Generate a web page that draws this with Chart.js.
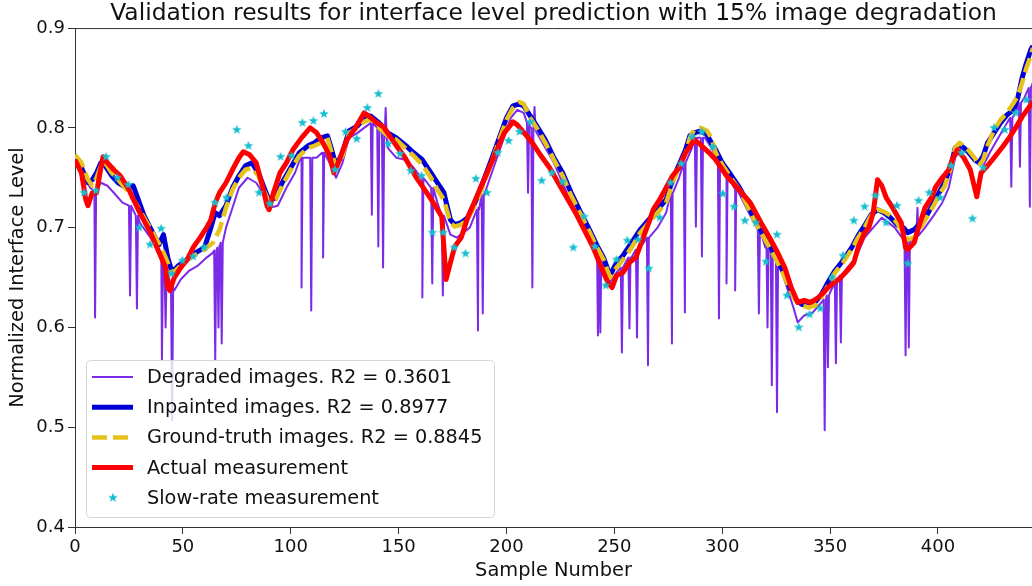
<!DOCTYPE html>
<html>
<head>
<meta charset="utf-8">
<script src="https://cdn.jsdelivr.net/npm/chart.js@4.4.0/dist/chart.umd.min.js"></script>
<style>
  html, body { margin: 0; padding: 0; background: #fff; }
  canvas { display: block; }
</style>
</head>
<body>
<canvas id="levelChart" width="1032" height="586"></canvas>
<script>
// values, as [sample number, normalized interface level]

var actualLevel = [
  [0,0.768],[3,0.755],[5,0.728],[6,0.722],[8,0.735],[10,0.735],[12,0.760],[13,0.771],[15,0.765],[18,0.758],
  [21,0.752],[25,0.738],[30,0.715],[35,0.695],[39,0.675],[42,0.660],[43,0.640],[44,0.637],[46,0.650],[49,0.660],
  [52,0.668],[55,0.681],[58,0.690],[61,0.700],[63,0.708],[65,0.725],[67,0.735],[70,0.745],[73,0.758],[76,0.770],
  [78,0.776],[81,0.773],[84,0.765],[87,0.741],[89,0.722],[90,0.718],[92,0.735],[95,0.755],[98,0.765],[101,0.778],
  [105,0.790],[109,0.800],[112,0.795],[115,0.785],[118,0.772],[120,0.755],[122,0.765],[126,0.788],[130,0.800],[134,0.815],
  [136,0.812],[140,0.805],[143,0.801],[148,0.785],[153,0.770],[158,0.751],[163,0.735],[167,0.722],[170,0.711],[171,0.680],
  [172,0.648],[174,0.665],[176,0.681],[179,0.690],[182,0.710],[185,0.725],[189,0.745],[193,0.765],[196,0.780],[199,0.795],
  [203,0.806],[205,0.803],[209,0.793],[212,0.785],[216,0.772],[220,0.760],[224,0.745],[228,0.730],[232,0.715],[236,0.698],
  [240,0.681],[244,0.660],[247,0.645],[249,0.640],[251,0.652],[254,0.655],[257,0.665],[260,0.670],[263,0.688],[266,0.705],
  [268,0.718],[271,0.728],[274,0.740],[277,0.752],[280,0.760],[283,0.775],[287,0.788],[290,0.783],[294,0.775],[297,0.768],
  [302,0.752],[307,0.740],[313,0.725],[318,0.705],[322,0.690],[325,0.678],[329,0.660],[332,0.640],[335,0.625],[338,0.627],
  [341,0.625],[344,0.629],[347,0.635],[349,0.640],[352,0.645],[355,0.650],[358,0.657],[361,0.665],[363,0.680],[366,0.695],
  [368,0.700],[370,0.715],[372,0.748],[374,0.742],[376,0.730],[379,0.720],[383,0.705],[385,0.680],[386,0.678],[389,0.685],
  [391,0.700],[394,0.720],[397,0.730],[399,0.741],[402,0.750],[405,0.758],[407,0.770],[409,0.778],[412,0.770],[415,0.758],
  [417,0.740],[418,0.731],[420,0.755],[423,0.762],[426,0.770],[430,0.781],[433,0.790],[436,0.800],[439,0.811],[442,0.820],
  [444,0.826]
];

var groundTruth = [
  [0,0.773],[3,0.765],[6,0.748],[8,0.742],[10,0.750],[12,0.762],[14,0.765],[17,0.755],[20,0.748],[24,0.738],
  [28,0.725],[32,0.710],[36,0.695],[40,0.680],[43,0.665],[45,0.654],[48,0.660],[52,0.668],[56,0.673],[60,0.678],
  [64,0.685],[67,0.698],[70,0.720],[73,0.738],[76,0.750],[79,0.758],[82,0.760],[85,0.752],[88,0.735],[90,0.725],
  [93,0.728],[96,0.742],[100,0.758],[104,0.772],[108,0.780],[111,0.782],[114,0.785],[117,0.790],[119,0.775],[121,0.760],
  [124,0.772],[127,0.795],[131,0.800],[134,0.806],[137,0.809],[141,0.800],[145,0.792],[149,0.788],[153,0.780],[157,0.772],
  [161,0.763],[165,0.750],[168,0.738],[171,0.728],[174,0.705],[176,0.701],[179,0.703],[182,0.708],[186,0.725],[189,0.741],
  [193,0.765],[197,0.790],[200,0.808],[203,0.820],[206,0.826],[208,0.824],[211,0.810],[214,0.800],[218,0.785],[222,0.768],
  [226,0.752],[230,0.732],[234,0.715],[238,0.698],[242,0.680],[245,0.668],[248,0.650],[251,0.660],[254,0.668],[258,0.680],
  [262,0.695],[266,0.705],[270,0.715],[274,0.725],[277,0.745],[280,0.761],[283,0.775],[285,0.790],[287,0.798],[290,0.800],
  [293,0.797],[295,0.790],[297,0.775],[300,0.763],[304,0.750],[308,0.738],[311,0.725],[314,0.711],[318,0.695],[322,0.680],
  [325,0.668],[328,0.655],[331,0.640],[334,0.627],[337,0.622],[340,0.620],[343,0.622],[346,0.630],[349,0.642],[352,0.654],
  [356,0.665],[360,0.678],[363,0.690],[366,0.700],[369,0.712],[372,0.718],[375,0.716],[378,0.712],[381,0.705],[384,0.695],
  [386,0.688],[389,0.690],[392,0.700],[395,0.711],[398,0.722],[401,0.735],[403,0.741],[406,0.760],[408,0.780],[410,0.785],
  [412,0.782],[414,0.778],[417,0.770],[419,0.762],[421,0.768],[423,0.782],[426,0.798],[429,0.808],[432,0.815],[435,0.825],
  [437,0.832],[439,0.845],[441,0.860],[443,0.872],[444,0.880]
];

var inpainted = [
  [0,0.770],[3,0.760],[6,0.745],[8,0.748],[10,0.755],[12,0.765],[14,0.762],[17,0.752],[20,0.745],[24,0.740],
  [27,0.742],[29,0.730],[32,0.712],[36,0.695],[39,0.683],[41,0.693],[43,0.670],[45,0.655],[48,0.662],[52,0.668],
  [56,0.675],[60,0.680],[63,0.700],[65,0.715],[67,0.712],[70,0.722],[73,0.740],[76,0.752],[79,0.762],[82,0.765],
  [85,0.755],[88,0.738],[90,0.727],[93,0.730],[96,0.745],[100,0.760],[104,0.775],[108,0.782],[111,0.785],[114,0.790],
  [117,0.792],[119,0.778],[121,0.762],[124,0.775],[127,0.797],[131,0.802],[134,0.810],[137,0.812],[141,0.805],[145,0.795],
  [149,0.790],[153,0.783],[157,0.775],[161,0.768],[165,0.755],[168,0.745],[171,0.735],[174,0.708],[176,0.703],[179,0.705],
  [182,0.710],[186,0.728],[189,0.745],[193,0.768],[197,0.792],[200,0.810],[203,0.822],[206,0.824],[208,0.822],[211,0.812],
  [214,0.802],[218,0.788],[222,0.770],[226,0.755],[230,0.735],[234,0.717],[238,0.700],[242,0.682],[245,0.670],[248,0.652],
  [251,0.665],[254,0.672],[258,0.685],[262,0.698],[266,0.708],[270,0.718],[274,0.728],[277,0.748],[280,0.763],[283,0.778],
  [285,0.792],[287,0.795],[290,0.797],[293,0.793],[295,0.785],[297,0.778],[300,0.765],[304,0.753],[308,0.740],[311,0.728],
  [314,0.713],[318,0.697],[322,0.683],[325,0.670],[328,0.657],[331,0.642],[334,0.628],[337,0.623],[340,0.622],[343,0.625],
  [346,0.633],[349,0.645],[352,0.656],[356,0.667],[360,0.680],[363,0.692],[366,0.702],[369,0.713],[372,0.718],[375,0.715],
  [378,0.710],[381,0.703],[384,0.700],[386,0.695],[389,0.698],[392,0.705],[395,0.713],[398,0.725],[401,0.737],[403,0.745],
  [406,0.762],[408,0.780],[410,0.783],[412,0.780],[414,0.776],[417,0.768],[419,0.765],[421,0.772],[423,0.785],[426,0.795],
  [429,0.805],[432,0.813],[435,0.818],[437,0.830],[439,0.850],[441,0.865],[443,0.878],[444,0.882]
];

// degraded prediction: the running level, and its drop-outs as [sample, bottom, level around it]
var degradedBase = [
  [0,0.765],[4,0.755],[7,0.740],[9,0.735],[12,0.745],[15,0.742],[18,0.735],[22,0.725],[26,0.718],[30,0.705],
  [35,0.690],[40,0.672],[44,0.645],[46,0.637],[49,0.648],[53,0.657],[57,0.662],[61,0.670],[64,0.675],[67,0.682],
  [70,0.700],[73,0.720],[76,0.740],[80,0.750],[84,0.745],[87,0.735],[90,0.720],[94,0.722],[98,0.740],[102,0.755],
  [105,0.770],[108,0.770],[112,0.770],[115,0.775],[118,0.765],[121,0.750],[124,0.765],[127,0.790],[131,0.795],[134,0.800],
  [138,0.805],[141,0.790],[145,0.780],[149,0.770],[153,0.768],[157,0.760],[161,0.750],[165,0.740],[168,0.725],[171,0.710],
  [174,0.693],[177,0.690],[180,0.695],[183,0.700],[187,0.720],[190,0.735],[194,0.760],[198,0.785],[202,0.810],[205,0.818],
  [208,0.815],[211,0.800],[214,0.795],[218,0.780],[222,0.765],[226,0.745],[230,0.725],[234,0.710],[238,0.695],[242,0.675],
  [245,0.660],[248,0.645],[251,0.655],[254,0.660],[258,0.670],[262,0.680],[266,0.690],[270,0.700],[274,0.715],[277,0.735],
  [280,0.750],[283,0.765],[286,0.780],[289,0.790],[292,0.790],[295,0.780],[298,0.768],[302,0.755],[306,0.740],[310,0.725],
  [313,0.712],[316,0.700],[320,0.680],[324,0.670],[327,0.660],[330,0.640],[333,0.620],[335,0.605],[338,0.612],[342,0.615],
  [346,0.625],[350,0.635],[354,0.650],[358,0.660],[362,0.670],[366,0.690],[370,0.700],[374,0.710],[377,0.705],[380,0.700],
  [384,0.688],[387,0.685],[390,0.690],[394,0.700],[398,0.712],[402,0.725],[405,0.740],[408,0.770],[411,0.780],[414,0.775],
  [418,0.768],[421,0.762],[424,0.775],[428,0.790],[432,0.805],[436,0.815],[440,0.830],[444,0.845]
];
var degradedDrops = [
  [9.3,0.610,0.737],[25.5,0.632,0.722],[28.7,0.619,0.712],[40.3,0.567,0.672],[42,0.600,0.660],[45,0.507,0.640],
  [65,0.567,0.677],[66.5,0.600,0.680],[68,0.584,0.685],[105,0.640,0.770],[109.5,0.617,0.770],[115,0.670,0.775],
  [137.6,0.713,0.805],[140.6,0.681,0.800],[142.8,0.660,0.795],[144,0.820,0.790],[161,0.630,0.750],[165.6,0.644,0.740],
  [170.5,0.632,0.712],[186.8,0.597,0.718],[189,0.614,0.733],[210,0.735,0.805],[212,0.640,0.800],[213,0.821,0.798],
  [242.4,0.592,0.675],[243.5,0.595,0.670],[253.5,0.575,0.660],[257,0.599,0.670],[260.5,0.590,0.678],[265.6,0.562,0.690],
  [276.7,0.584,0.735],[282.7,0.615,0.765],[287.8,0.701,0.790],[290.6,0.671,0.790],[298.5,0.609,0.768],[302,0.644,0.755],
  [306,0.637,0.740],[317,0.614,0.698],[321,0.600,0.685],[323,0.542,0.675],[325.4,0.515,0.670],[347.5,0.497,0.628],
  [349,0.560,0.632],[352.7,0.564,0.645],[355,0.585,0.652],[385,0.572,0.688],[386.5,0.580,0.686],[390.5,0.720,0.692],
  [434,0.741,0.810],[438,0.761,0.825],[442.6,0.721,0.840]
];

var slowRate = [
  [4.2,0.735],[9.7,0.737],[14.4,0.771],[19.6,0.750],[24.7,0.743],[29.8,0.700],[34.8,0.683],[39.9,0.699],[44.8,0.654],[49.8,0.667],
  [54.8,0.671],[59.9,0.680],[64.9,0.725],[70.2,0.730],[75,0.798],[80.4,0.782],[85.3,0.735],[90.3,0.724],[95.3,0.771],[100.4,0.772],
  [105.4,0.805],[110.5,0.807],[115.4,0.814],[120.5,0.758],[125.4,0.796],[130.6,0.789],[135.5,0.820],[140.6,0.834],[145.2,0.784],[150.6,0.774],
  [155.6,0.757],[160.6,0.752],[165.7,0.695],[170.7,0.695],[175.8,0.680],[181,0.674],[185.8,0.749],[191,0.735],[196,0.775],[201,0.787],
  [206,0.796],[211,0.806],[216.3,0.747],[221,0.755],[226,0.746],[231,0.680],[236,0.711],[241,0.681],[246,0.642],[251,0.668],
  [256,0.687],[261,0.688],[266,0.659],[271,0.710],[276,0.745],[281,0.764],[286,0.791],[290.6,0.796],[295.6,0.781],[300.3,0.734],
  [305.5,0.721],[310.5,0.707],[315.6,0.705],[320.3,0.666],[325.4,0.693],[330,0.632],[335.5,0.600],[340.5,0.613],[345.5,0.619],[351,0.650],
  [356,0.672],[361,0.707],[366,0.721],[371,0.732],[376,0.705],[381,0.722],[386,0.664],[391,0.727],[396,0.735],[401,0.730],
  [406,0.762],[411,0.775],[416,0.709],[421,0.760],[426,0.800],[431,0.798],[436,0.815],[441,0.828]
];

var seriesLabels = [
  'Degraded images. R2 = 0.3601',
  'Inpainted images. R2 = 0.8977',
  'Ground-truth images. R2 = 0.8845',
  'Actual measurement',
  'Slow-rate measurement'
];
var yTicks = [0.4, 0.5, 0.6, 0.7, 0.8, 0.9];
var xTicks = [0, 50, 100, 150, 200, 250, 300, 350, 400];

function toPoints(arr) {
  return arr.map(function (p) { return { x: p[0], y: p[1] }; });
}

var degradedPts = toPoints(degradedBase);
degradedDrops.forEach(function (d) {
  degradedPts.push({ x: d[0] - 0.5, y: d[2] }, { x: d[0], y: d[1] }, { x: d[0] + 0.5, y: d[2] });
});
degradedPts.sort(function (a, b) { return a.x - b.x; });

// filled five point star used as marker
function starImage(r, color) {
  var c = document.createElement('canvas');
  c.width = c.height = Math.ceil(r * 2 + 2);
  var g = c.getContext('2d');
  var cx = c.width / 2, cy = c.height / 2;
  g.beginPath();
  for (var i = 0; i < 10; i++) {
    var rad = i % 2 === 0 ? r : r * 0.42;
    var a = -Math.PI / 2 + i * Math.PI / 5;
    var px = cx + rad * Math.cos(a), py = cy + rad * Math.sin(a);
    if (i === 0) g.moveTo(px, py); else g.lineTo(px, py);
  }
  g.closePath();
  g.fillStyle = color;
  g.fill();
  return c;
}
var star = starImage(5, '#17becf');

var font = 'DejaVu Sans';

// top spine and the legend box drawn in the axes like the figure
var framePlugin = {
  id: 'frame',
  afterDatasetsDraw: function (chart) {
    var ctx = chart.ctx, a = chart.chartArea;
    ctx.save();
    ctx.strokeStyle = '#333';
    ctx.lineWidth = 1;
    ctx.beginPath();
    ctx.moveTo(a.left, a.top + 0.5);
    ctx.lineTo(a.right, a.top + 0.5);
    ctx.stroke();

    var bx = a.left + 11, by = 360, bw = 408, bh = 157;
    ctx.beginPath();
    ctx.roundRect(bx + 0.5, by + 0.5, bw, bh, 4);
    ctx.fillStyle = 'rgba(255,255,255,0.8)';
    ctx.fill();
    ctx.strokeStyle = '#d6d6d6';
    ctx.stroke();

    var ds = chart.data.datasets;
    ctx.font = '19.3px ' + font;
    ctx.textBaseline = 'middle';
    ctx.fillStyle = '#111';
    for (var i = 0; i < 5; i++) {
      var d = ds[i];
      var y = by + 17 + i * 30.2;
      if (d.showLine === false) {
        ctx.drawImage(star, bx + 27 - star.width / 2, y - star.height / 2);
      } else {
        ctx.beginPath();
        ctx.strokeStyle = d.borderColor;
        ctx.lineWidth = d.borderWidth;
        ctx.setLineDash(d.borderDash || []);
        ctx.moveTo(bx + 6, y);
        ctx.lineTo(bx + 47, y);
        ctx.stroke();
        ctx.setLineDash([]);
      }
      ctx.fillText(d.label, bx + 61, y + 1);
    }
    ctx.restore();
  }
};

new Chart(document.getElementById('levelChart').getContext('2d'), {
  type: 'line',
  data: {
    datasets: [
      { label: seriesLabels[0], data: degradedPts, borderColor: '#7b2be8', borderWidth: 2, pointRadius: 0, order: 4 },
      { label: seriesLabels[1], data: toPoints(inpainted), borderColor: '#0000d6', borderWidth: 5, pointRadius: 0, order: 3 },
      { label: seriesLabels[2], data: toPoints(groundTruth), borderColor: '#e6c21c', borderWidth: 4.5, borderDash: [15, 6], pointRadius: 0, order: 2 },
      { label: seriesLabels[3], data: toPoints(actualLevel), borderColor: '#ff0000', borderWidth: 5, pointRadius: 0, order: 1 },
      { label: seriesLabels[4], data: toPoints(slowRate), showLine: false, pointStyle: star, pointRadius: 5, borderColor: '#17becf', backgroundColor: '#17becf', order: 0 }
    ]
  },
  options: {
    responsive: false,
    animation: false,
    events: [],
    layout: { padding: 0, autoPadding: false },
    elements: { line: { tension: 0, borderJoinStyle: 'round', borderCapStyle: 'butt' } },
    plugins: {
      legend: { display: false },
      tooltip: { enabled: false },
      title: {
        display: true,
        fullSize: false,
        text: 'Validation results for interface level prediction with 15% image degradation',
        color: '#111',
        font: { family: font, size: 23.4, weight: 'normal', lineHeight: 1.2 },
        padding: { top: 0, bottom: 0 }
      }
    },
    scales: {
      x: {
        type: 'linear',
        min: 0,
        max: 443.6,
        afterFit: function (s) { s.height = 59; },
        afterBuildTicks: function (s) { s.ticks = xTicks.map(function (v) { return { value: v }; }); },
        ticks: { color: '#111', font: { family: font, size: 18 }, padding: 3, maxRotation: 0 },
        grid: { drawOnChartArea: false, tickLength: 7, color: '#333' },
        border: { color: '#333', width: 1 },
        title: { display: true, text: 'Sample Number', color: '#111', font: { family: font, size: 19.4 }, padding: { top: 0, bottom: 3 } }
      },
      y: {
        min: 0.4,
        max: 0.9,
        afterFit: function (s) { s.width = 75; },
        afterBuildTicks: function (s) { s.ticks = yTicks.map(function (v) { return { value: v }; }); },
        ticks: { color: '#111', font: { family: font, size: 18 }, padding: 3, callback: function (v) { return v.toFixed(1); } },
        grid: { drawOnChartArea: false, tickLength: 7, color: '#333' },
        border: { color: '#333', width: 1 },
        title: { display: true, text: 'Normalized Interface Level', color: '#111', font: { family: font, size: 19.4 }, padding: { top: 6, bottom: 0 } }
      }
    }
  },
  plugins: [framePlugin]
});
</script>
</body>
</html>
